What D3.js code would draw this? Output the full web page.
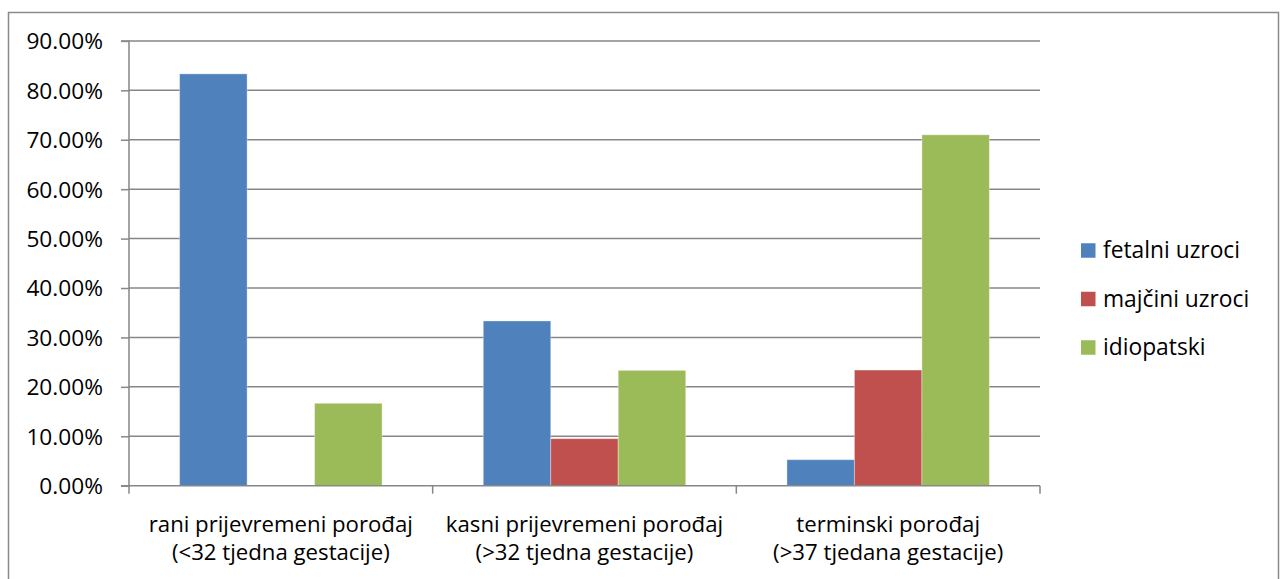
<!DOCTYPE html>
<html><head><meta charset="utf-8">
<script src="https://cdn.jsdelivr.net/npm/d3@7"></script>
<style>body{margin:0;background:#fff}svg{display:block}text{font-family:"Open Sans",sans-serif;fill:#000}</style>
</head><body>
<svg id="c" width="1281" height="579"></svg>
<script>
const categories = [
  ["rani prijevremeni porođaj", "(<32 tjedna gestacije)"],
  ["kasni prijevremeni porođaj", "(>32 tjedna gestacije)"],
  ["terminski porođaj", "(>37 tjedana gestacije)"]
];
const seriesNames = ["fetalni uzroci", "majčini uzroci", "idiopatski"];
const fetalni = [0.8333, 0.3333, 0.0526];
const majcini = [0, 0.0952, 0.2340];
const idiopatski = [0.1667, 0.2333, 0.7100];
const colors = ["#4F81BD", "#C0504D", "#9BBB59"];
const yTicks = [0, 0.1, 0.2, 0.3, 0.4, 0.5, 0.6, 0.7, 0.8, 0.9];

const svg = d3.select("#c");
svg.append("rect").attr("x", 8.5).attr("y", 12.5).attr("width", 1270).attr("height", 600)
  .attr("fill", "#fff").attr("stroke", "#8a8a8a").attr("stroke-width", 1.5);

const L = 129, R = 1040, T = 40.9, B = 485.7;
const y = d3.scaleLinear().domain([0, 0.9]).range([B, T]);
const x0 = d3.scaleBand().domain(d3.range(categories.length)).range([L, R]).paddingInner(0).paddingOuter(0);
const x1 = d3.scaleBand().domain(d3.range(3)).range([0, x0.bandwidth()]).paddingOuter(0.75).paddingInner(0);

// gridlines
svg.append("g").selectAll("line").data(yTicks.slice(1)).join("line")
  .attr("x1", L).attr("x2", R).attr("y1", d => y(d)).attr("y2", d => y(d))
  .attr("stroke", "#878787").attr("stroke-width", 1.5);

// y axis
const yAxis = d3.axisLeft(y).tickValues(yTicks).tickFormat(d3.format(".2%")).tickSize(8).tickPadding(18);
const gy = svg.append("g").attr("transform", `translate(${L},0)`).call(yAxis);
gy.select(".domain").attr("stroke", "#878787").attr("stroke-width", 1.5).attr("d", `M-8,${B}H0V${T}H-8`);
gy.selectAll(".tick line").attr("stroke", "#878787").attr("stroke-width", 1.5);
gy.selectAll(".tick text").style("font-size", "22.7px").style("font-family", "'Open Sans',sans-serif").attr("dy", "0.35em");

// bars
const series = [fetalni, majcini, idiopatski];
const groups = svg.append("g").selectAll("g").data(categories).join("g")
  .attr("transform", (d, i) => `translate(${x0(i)},0)`);
groups.selectAll("rect").data((d, i) => series.map((s, k) => ({k, v: s[i]}))).join("rect")
  .filter(d => d.v > 0)
  .attr("x", d => x1(d.k)).attr("width", x1.bandwidth())
  .attr("y", d => y(d.v)).attr("height", d => B - y(d.v))
  .attr("fill", d => colors[d.k]).attr("stroke", "rgba(255,255,255,0.35)").attr("stroke-width", 1);

// x axis
const xAxis = d3.axisBottom(x0).tickSize(0).tickFormat("");
const gx = svg.append("g").attr("transform", `translate(0,${B})`).call(xAxis);
gx.select(".domain").attr("stroke", "#878787").attr("stroke-width", 1.5).attr("d", `M${L},0H${R}`);
const bounds = d3.range(categories.length + 1).map(i => L + i * x0.bandwidth());
gx.selectAll("line.b").data(bounds).join("line").attr("class", "b")
  .attr("x1", d => d).attr("x2", d => d).attr("y1", 0).attr("y2", 8)
  .attr("stroke", "#878787").attr("stroke-width", 1.5);
const lab = svg.append("g").selectAll("text").data(categories).join("text")
  .attr("x", (d, i) => x0(i) + x0.bandwidth() / 2).attr("y", 531.5)
  .attr("text-anchor", "middle").style("font-size", "22.2px");
lab.selectAll("tspan").data(d => d).join("tspan")
  .attr("x", function() { return this.parentNode.getAttribute("x"); })
  .attr("dy", (d, i) => i === 0 ? 0 : 28.5).text(d => d);

// legend
const lg = svg.append("g").selectAll("g").data(seriesNames).join("g")
  .attr("transform", (d, i) => `translate(1081,${250.5 + i * 48.5})`);
lg.append("rect").attr("x", 0).attr("y", -7.25).attr("width", 14.5).attr("height", 14.5).attr("fill", (d, i) => colors[i]);
lg.append("text").attr("x", 22).attr("y", 0).attr("dy", "0.35em").style("font-size", "22.8px").text(d => d);
</script>
</body></html>
